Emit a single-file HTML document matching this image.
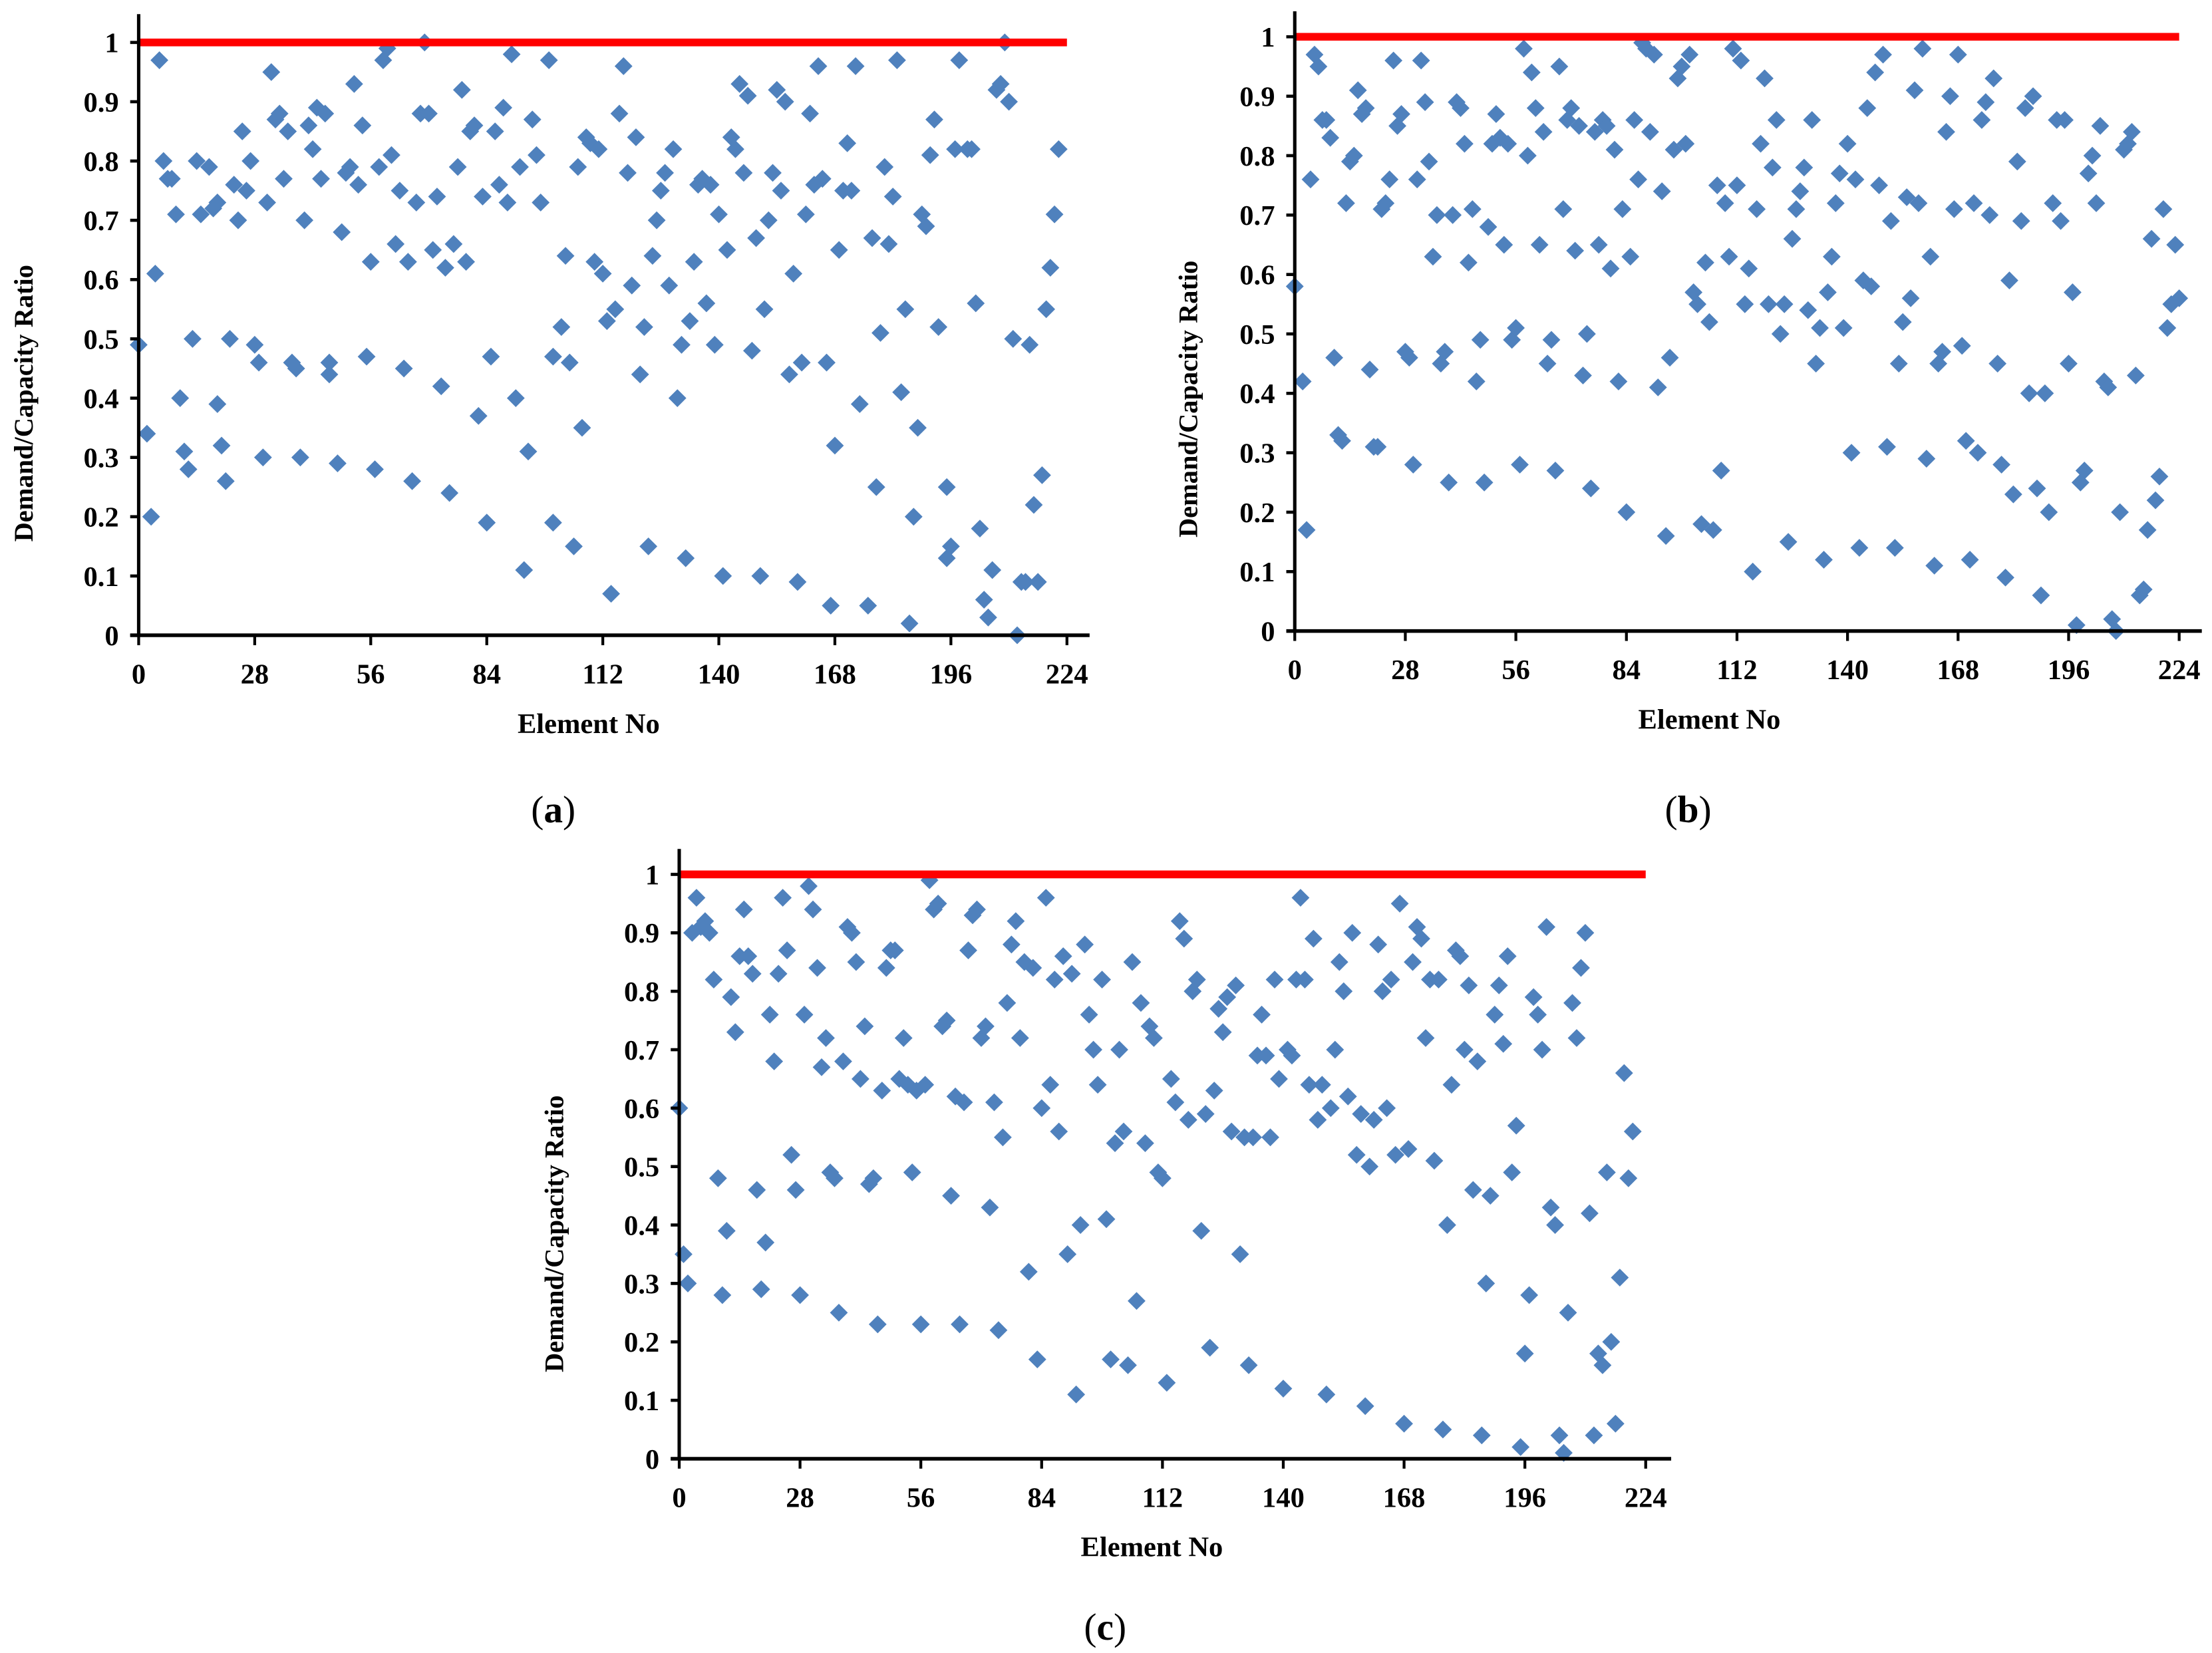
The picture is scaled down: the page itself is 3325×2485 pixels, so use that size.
<!DOCTYPE html>
<html><head><meta charset="utf-8"><style>
html,body{margin:0;padding:0;background:#fff}
svg{display:block}
text{font-family:"Liberation Serif",serif;font-weight:bold;fill:#000}
</style></head><body>
<svg id="fig" width="3325" height="2485" viewBox="0 0 1563.2 1168.3" preserveAspectRatio="none" xmlns="http://www.w3.org/2000/svg"></svg>
<script>
const xTicks = [0,28,56,84,112,140,168,196,224];
const yTicks = [0,0.1,0.2,0.3,0.4,0.5,0.6,0.7,0.8,0.9,1];
const yTickLabels = ["0","0.1","0.2","0.3","0.4","0.5","0.6","0.7","0.8","0.9","1"];
const limitValue = 1;

const aX = [0,2,3,4,5,6,7,8,9,10,11,12,13,14,15,17,18,19,19,20,21,22,23,24,25,26,27,28,29,30,31,32,33,34,35,36,37,38,39,40,41,42,43,44,45,46,46,48,49,50,51,52,53,54,55,56,57,58,59,60,61,62,63,64,65,66,67,68,69,70,71,72,73,74,75,76,77,78,79,80,81,82,83,84,85,86,87,88,89,90,91,92,93,94,95,96,97,99,100,100,102,103,104,105,106,107,108,109,110,111,112,113,114,115,116,117,118,119,120,121,122,123,124,125,126,127,128,129,130,131,132,133,134,135,136,137,138,139,140,141,142,143,144,145,146,147,148,149,150,151,152,153,154,155,156,157,158,159,160,161,162,163,164,165,166,167,168,169,170,171,172,173,174,176,177,178,179,180,181,182,183,184,185,186,187,188,189,190,191,192,193,195,195,196,197,198,200,201,202,203,204,205,206,207,208,209,210,211,212,213,214,215,216,217,218,219,220,221,222];
const aY = [0.49,0.34,0.2,0.61,0.97,0.8,0.77,0.77,0.71,0.4,0.31,0.28,0.5,0.8,0.71,0.79,0.72,0.73,0.39,0.32,0.26,0.5,0.76,0.7,0.85,0.75,0.8,0.49,0.46,0.3,0.73,0.95,0.87,0.88,0.77,0.85,0.46,0.45,0.3,0.7,0.86,0.82,0.89,0.77,0.88,0.44,0.46,0.29,0.68,0.78,0.79,0.93,0.76,0.86,0.47,0.63,0.28,0.79,0.97,0.99,0.81,0.66,0.75,0.45,0.63,0.26,0.73,0.88,1.0,0.88,0.65,0.74,0.42,0.62,0.24,0.66,0.79,0.92,0.63,0.85,0.86,0.37,0.74,0.19,0.47,0.85,0.76,0.89,0.73,0.98,0.4,0.79,0.11,0.31,0.87,0.81,0.73,0.97,0.47,0.19,0.52,0.64,0.46,0.15,0.79,0.35,0.84,0.83,0.63,0.82,0.61,0.53,0.07,0.55,0.88,0.96,0.78,0.59,0.84,0.44,0.52,0.15,0.64,0.7,0.75,0.78,0.59,0.82,0.4,0.49,0.13,0.53,0.63,0.76,0.77,0.56,0.76,0.49,0.71,0.1,0.65,0.84,0.82,0.93,0.78,0.91,0.48,0.67,0.1,0.55,0.7,0.78,0.92,0.75,0.9,0.44,0.61,0.09,0.46,0.71,0.88,0.76,0.96,0.77,0.46,0.05,0.32,0.65,0.75,0.83,0.75,0.96,0.39,0.05,0.67,0.25,0.51,0.79,0.66,0.74,0.97,0.41,0.55,0.02,0.2,0.35,0.71,0.69,0.81,0.87,0.52,0.25,0.13,0.15,0.82,0.97,0.82,0.82,0.56,0.18,0.06,0.03,0.11,0.92,0.93,1.0,0.9,0.5,0.0,0.09,0.09,0.49,0.22,0.09,0.27,0.55,0.62,0.71,0.82];

const bX = [0,2,3,4,5,6,7,8,9,10,11,12,13,14,15,16,17,18,19,20,21,22,23,24,25,26,27,28,29,30,31,32,33,34,35,36,37,38,39,40,41,42,43,44,45,46,47,48,49,50,51,52,53,54,55,56,57,58,59,60,61,62,63,64,65,66,67,68,69,70,71,72,73,74,75,76,77,78,79,80,81,82,83,84,85,86,87,88,89,90,91,92,93,94,95,96,97,98,99,100,101,102,103,104,105,106,107,108,109,110,111,112,113,114,115,116,117,118,119,120,121,122,123,124,125,126,127,128,129,130,131,132,133,134,135,136,137,138,139,140,141,142,143,144,145,146,147,148,149,150,151,152,153,154,155,156,157,158,159,160,161,162,163,164,165,166,167,168,169,170,171,172,173,174,175,176,177,178,179,180,181,182,183,184,185,186,187,188,189,190,191,192,193,194,195,196,197,198,199,200,201,202,203,204,205,206,207,208,209,210,211,212,213,214,215,216,217,218,219,220,221,222,223,224];
const bY = [0.58,0.42,0.17,0.76,0.97,0.95,0.86,0.86,0.83,0.46,0.33,0.32,0.72,0.79,0.8,0.91,0.87,0.88,0.44,0.31,0.31,0.71,0.72,0.76,0.96,0.85,0.87,0.47,0.46,0.28,0.76,0.96,0.89,0.79,0.63,0.7,0.45,0.47,0.25,0.7,0.89,0.88,0.82,0.62,0.71,0.42,0.49,0.25,0.68,0.82,0.87,0.83,0.65,0.82,0.49,0.51,0.28,0.98,0.8,0.94,0.88,0.65,0.84,0.45,0.49,0.27,0.95,0.71,0.86,0.88,0.64,0.85,0.43,0.5,0.24,0.84,0.65,0.86,0.85,0.61,0.81,0.42,0.71,0.2,0.63,0.86,0.76,0.99,0.98,0.84,0.97,0.41,0.74,0.16,0.46,0.81,0.93,0.95,0.82,0.97,0.57,0.55,0.18,0.62,0.52,0.17,0.75,0.27,0.72,0.63,0.98,0.75,0.96,0.55,0.61,0.1,0.71,0.82,0.93,0.55,0.78,0.86,0.5,0.55,0.15,0.66,0.71,0.74,0.78,0.54,0.86,0.45,0.51,0.12,0.57,0.63,0.72,0.77,0.51,0.82,0.3,0.76,0.14,0.59,0.88,0.58,0.94,0.75,0.97,0.31,0.69,0.14,0.45,0.52,0.73,0.56,0.91,0.72,0.98,0.29,0.63,0.11,0.45,0.47,0.84,0.9,0.71,0.97,0.48,0.32,0.12,0.72,0.3,0.86,0.89,0.7,0.93,0.45,0.28,0.09,0.59,0.23,0.79,0.69,0.88,0.4,0.9,0.24,0.06,0.4,0.2,0.72,0.86,0.69,0.86,0.45,0.57,0.01,0.25,0.27,0.77,0.8,0.72,0.85,0.42,0.41,0.02,0.0,0.2,0.81,0.82,0.84,0.43,0.06,0.07,0.17,0.66,0.22,0.26,0.71,0.51,0.55,0.65,0.56];

const cY = [0.6,0.35,0.3,0.9,0.96,0.91,0.92,0.9,0.82,0.48,0.28,0.39,0.79,0.73,0.86,0.94,0.86,0.83,0.46,0.29,0.37,0.76,0.68,0.83,0.96,0.87,0.52,0.46,0.28,0.76,0.98,0.94,0.84,0.67,0.72,0.49,0.48,0.25,0.68,0.91,0.9,0.85,0.65,0.74,0.47,0.48,0.23,0.63,0.84,0.87,0.87,0.65,0.72,0.64,0.49,0.63,0.23,0.64,0.99,0.94,0.95,0.74,0.75,0.45,0.62,0.23,0.61,0.87,0.93,0.94,0.72,0.74,0.43,0.61,0.22,0.55,0.78,0.88,0.92,0.72,0.85,0.32,0.84,0.17,0.6,0.96,0.64,0.82,0.56,0.86,0.35,0.83,0.11,0.4,0.88,0.76,0.7,0.64,0.82,0.41,0.17,0.54,0.7,0.56,0.16,0.85,0.27,0.78,0.54,0.74,0.72,0.49,0.48,0.13,0.65,0.61,0.92,0.89,0.58,0.8,0.82,0.39,0.59,0.19,0.63,0.77,0.73,0.79,0.56,0.81,0.35,0.55,0.16,0.55,0.69,0.76,0.69,0.55,0.82,0.65,0.12,0.7,0.69,0.82,0.96,0.82,0.64,0.89,0.58,0.64,0.11,0.6,0.7,0.85,0.8,0.62,0.9,0.52,0.59,0.09,0.5,0.58,0.88,0.8,0.6,0.82,0.52,0.95,0.06,0.53,0.85,0.91,0.89,0.72,0.82,0.51,0.82,0.05,0.4,0.64,0.87,0.86,0.7,0.81,0.46,0.68,0.04,0.3,0.45,0.76,0.81,0.71,0.86,0.49,0.57,0.02,0.18,0.28,0.79,0.76,0.7,0.91,0.43,0.4,0.04,0.01,0.25,0.78,0.72,0.84,0.9,0.42,0.04,0.18,0.16,0.49,0.2,0.06,0.31,0.66,0.48,0.56];
const cX = cY.map((v,i)=>i);

const NS = "http://www.w3.org/2000/svg";
const svg = document.getElementById('fig');
function mk(tag, attrs, parent){
  const e = document.createElementNS(NS, tag);
  for (const k in attrs) e.setAttribute(k, attrs[k]);
  (parent||svg).appendChild(e);
  return e;
}

function drawChart(id, cfg, xs, ys){
  const g = mk('g', {});
  
  
  const sx = v => cfg.x0 + (v/224)*(cfg.x224 - cfg.x0);
  const sy = v => cfg.y0 - v*(cfg.y0 - cfg.y1);

  const pg = mk('g', {}, g);
  
  
  const r = 6.3;
  for (let i=0;i<xs.length;i++){
    const cx = sx(xs[i]), cy = sy(ys[i]);
    const p = mk('polygon', {points:`${cx},${cy-r} ${cx+r},${cy} ${cx},${cy+r} ${cx-r},${cy}`, fill:'#4f81bd'}, pg);
    
    
  }
  const lim = mk('line', {x1:sx(0), x2:sx(224), y1:sy(limitValue), y2:sy(limitValue), stroke:'#ff0000', 'stroke-width':5.5}, g);
  
  

  const ya = mk('line', {x1:cfg.x0, x2:cfg.x0, y1:cfg.yTop, y2:cfg.y0+1, stroke:'#000', 'stroke-width':2.4}, g);
  
  
  const xa = mk('line', {x1:cfg.x0-6, x2:cfg.xEnd, y1:cfg.y0, y2:cfg.y0, stroke:'#000', 'stroke-width':2.6}, g);
  
  

  yTicks.forEach((t,i)=>{
    const y = sy(t);
    mk('line', {x1:cfg.x0-6, x2:cfg.x0, y1:y, y2:y, stroke:'#000', 'stroke-width':2.2}, g);
    const tx = mk('text', {x:cfg.x0-14, y:y+7, 'text-anchor':'end', 'font-size':20}, g);
    tx.textContent = yTickLabels[i];
    
    
  });
  xTicks.forEach(t=>{
    const x = sx(t);
    mk('line', {x1:x, x2:x, y1:cfg.y0, y2:cfg.y0+7, stroke:'#000', 'stroke-width':2}, g);
    const tx = mk('text', {x:x, y:cfg.y0+34, 'text-anchor':'middle', 'font-size':20}, g);
    tx.textContent = String(t);
    
    
  });
  const xt = mk('text', {x:cfg.xTitleX, y:cfg.y0+69, 'text-anchor':'middle', 'font-size':20}, g);
  xt.textContent = 'Element No';
  
  
  const yt = mk('text', {x:0, y:0, 'text-anchor':'middle', 'font-size':19, transform:`translate(${cfg.yTitleX},${cfg.yTitleY}) rotate(-90)`}, g);
  yt.textContent = 'Demand/Capacity Ratio';
  
  
  const cap = mk('text', {x:cfg.capX, y:cfg.capY, 'text-anchor':'middle', 'font-size':27, style:'font-weight:normal'}, g);
  cap.innerHTML = '(<tspan font-weight="bold">' + id + '</tspan>)';
  
  
}

drawChart('a', {x0:98, x224:754, y0:449, y1:30, yTop:10, xEnd:770, xTitleX:416, yTitleX:23, yTitleY:285, capX:391, capY:581}, aX, aY);
drawChart('b', {x0:915, x224:1540, y0:446, y1:26, yTop:8, xEnd:1556, xTitleX:1208, yTitleX:846, yTitleY:282, capX:1193, capY:581}, bX, bY);
drawChart('c', {x0:480, x224:1163, y0:1031, y1:618, yTop:600, xEnd:1181, xTitleX:814, yTitleX:398, yTitleY:872, capX:781, capY:1159}, cX, cY);
</script>
</body></html>
